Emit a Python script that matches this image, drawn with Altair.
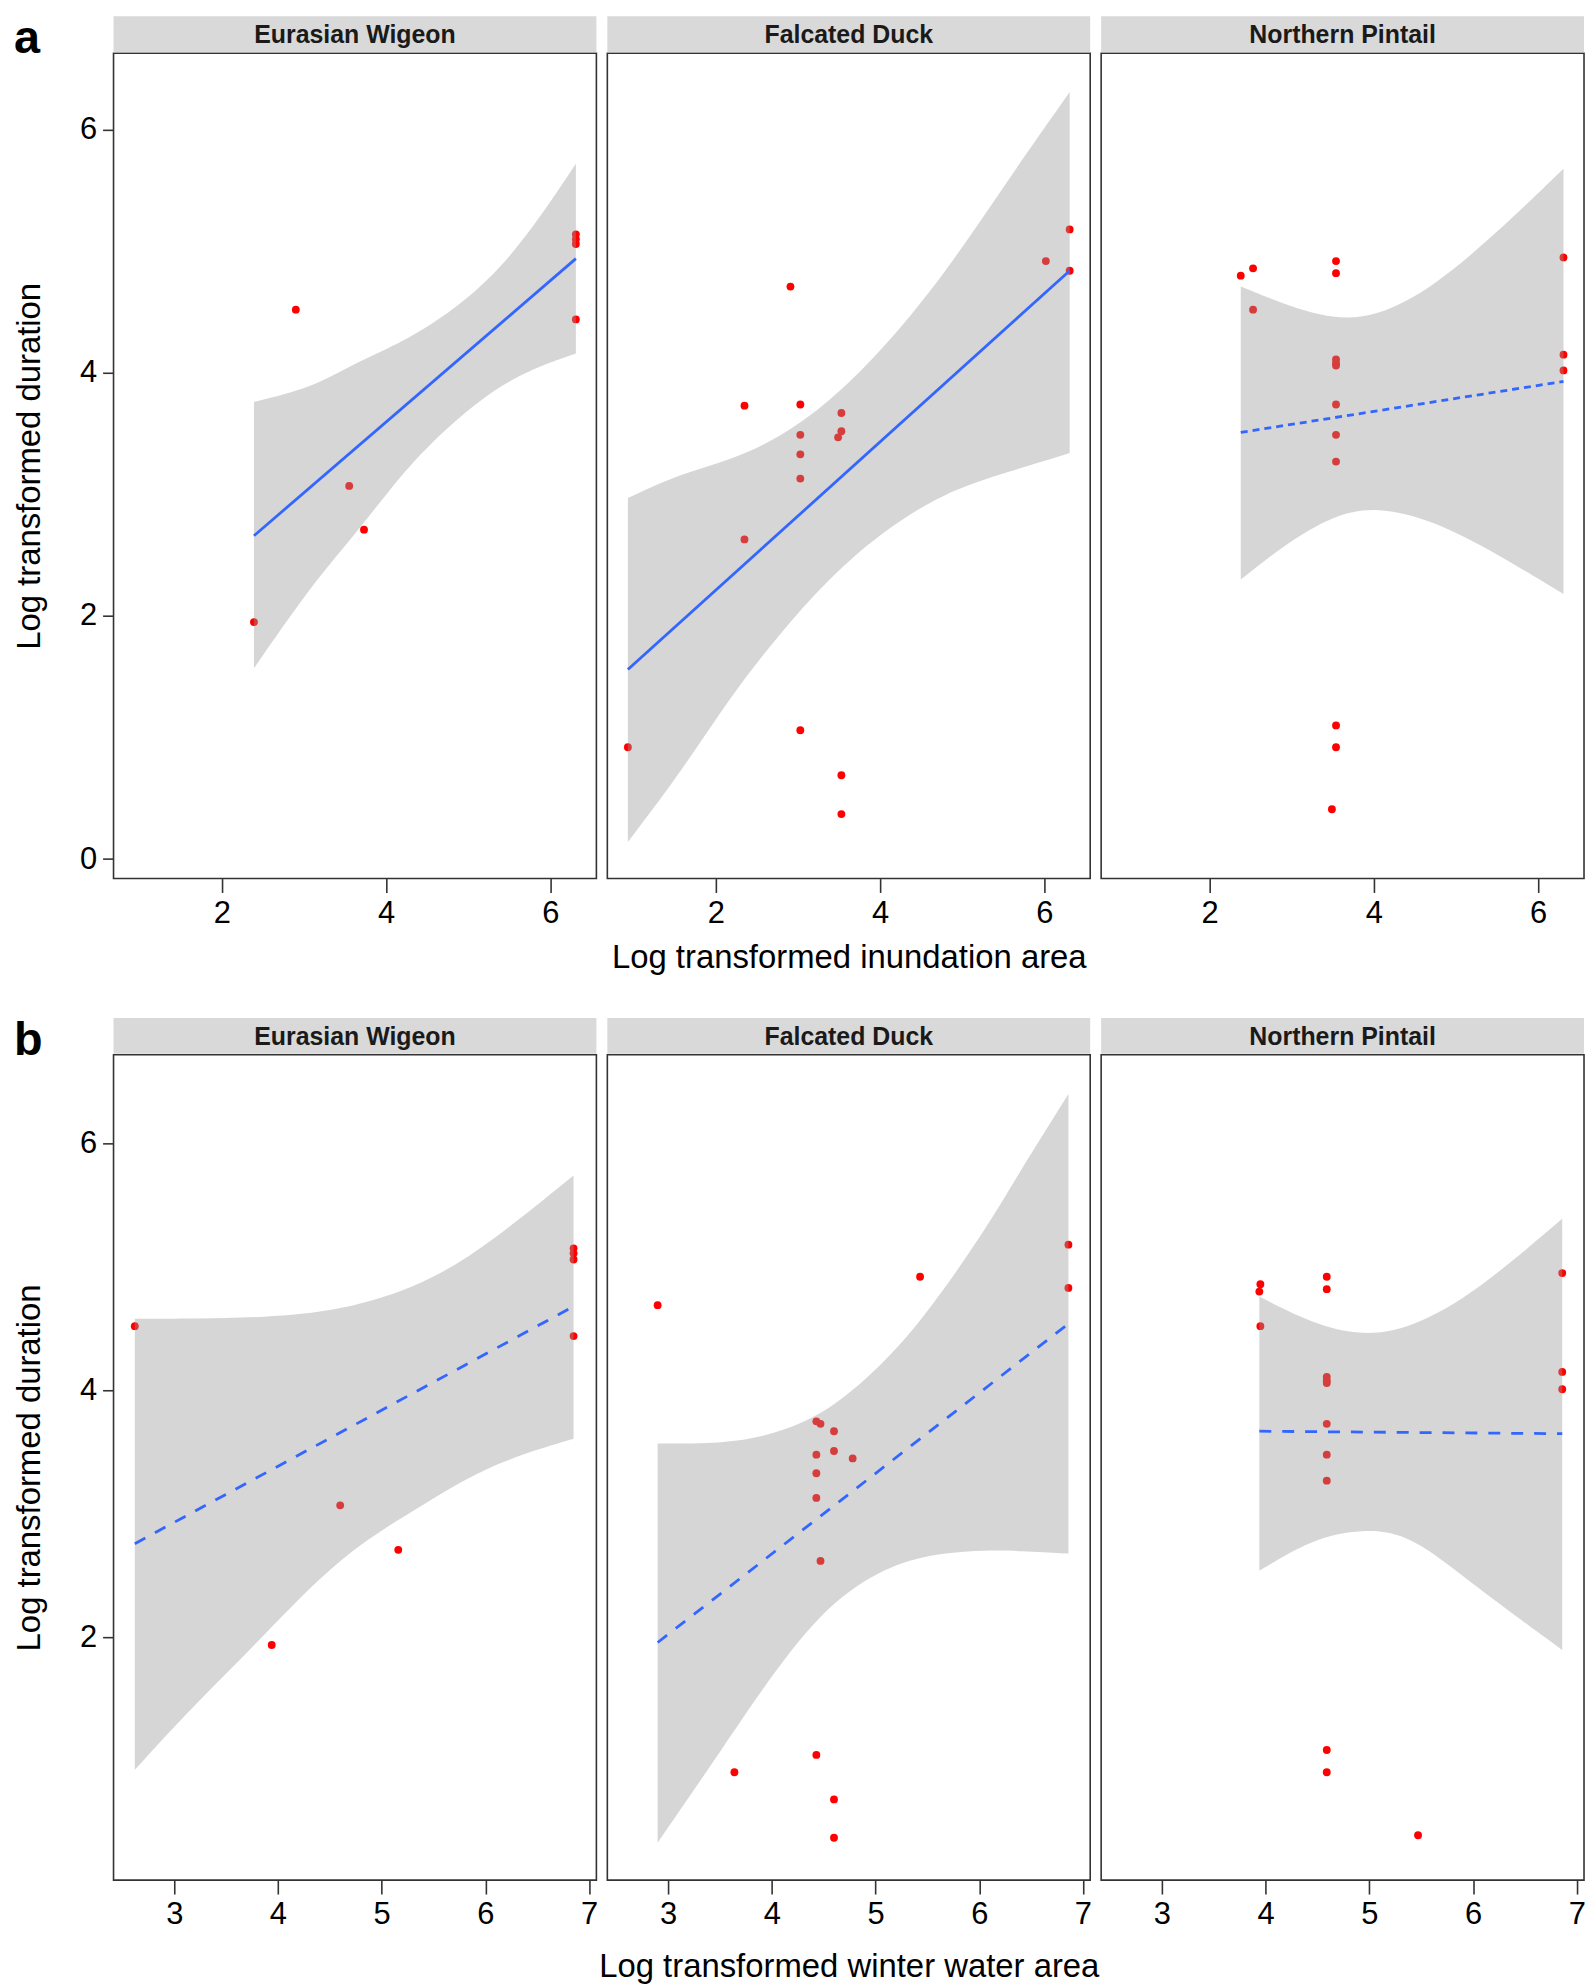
import altair as alt
import pandas as pd

# ---------------- data ----------------
SPECIES = ["Eurasian Wigeon", "Falcated Duck", "Northern Pintail"]

# Row a : inundation area
EW_A_X = [2.39, 2.90, 3.55, 3.73, 6.31, 6.31, 6.31, 6.31]
EW_A_Y = [1.95, 4.52, 3.07, 2.71, 5.14, 5.10, 5.06, 4.44]
EW_A_LINE_X = [2.39, 6.31]
EW_A_LINE_Y = [2.66, 4.94]
EW_A_BAND_X = [2.39, 3.10, 3.56, 4.02, 4.49, 5.42, 6.31]
EW_A_BAND_LO = [1.57, 2.26, 2.62, 3.02, 3.40, 3.95, 4.16]
EW_A_BAND_HI = [3.76, 3.88, 4.06, 4.20, 4.36, 4.82, 5.72]

FD_A_X = [0.93, 2.35, 2.35, 2.91, 3.03, 3.03, 3.03, 3.03, 3.03, 3.53, 3.53, 3.49, 3.53, 3.53, 6.02, 6.31, 6.31]
FD_A_Y = [0.92, 3.73, 2.63, 4.71, 3.74, 3.49, 3.33, 3.13, 1.06, 3.67, 3.52, 3.47, 0.69, 0.37, 4.92, 5.18, 4.84]
FD_A_LINE_X = [0.93, 6.31]
FD_A_LINE_Y = [1.56, 4.84]
FD_A_BAND_X = [0.93, 1.57, 2.17, 2.77, 3.38, 3.98, 4.78, 5.58, 6.31]
FD_A_BAND_LO = [0.14, 0.71, 1.33, 1.85, 2.31, 2.67, 3.02, 3.19, 3.34]
FD_A_BAND_HI = [2.97, 3.17, 3.28, 3.46, 3.76, 4.15, 4.80, 5.61, 6.31]

NP_A_X = [2.38, 2.53, 2.53, 3.54, 3.54, 3.54, 3.54, 3.54, 3.54, 3.54, 3.54, 6.31, 6.31, 6.31, 3.54, 3.54, 3.49]
NP_A_Y = [4.80, 4.86, 4.52, 4.92, 4.82, 4.11, 4.08, 4.06, 3.74, 3.49, 3.27, 4.95, 4.15, 4.02, 1.10, 0.92, 0.41]
NP_A_LINE_X = [2.38, 6.31]
NP_A_LINE_Y = [3.51, 3.93]
NP_A_BAND_X = [2.38, 2.92, 3.51, 4.03, 4.72, 5.53, 6.31]
NP_A_BAND_LO = [2.30, 2.59, 2.83, 2.90, 2.79, 2.50, 2.18]
NP_A_BAND_HI = [4.71, 4.56, 4.44, 4.46, 4.70, 5.17, 5.68]

# Row b : winter water area
EW_B_X = [2.62, 3.94, 4.60, 5.16, 6.85, 6.85, 6.85, 6.85]
EW_B_Y = [4.52, 1.94, 3.07, 2.71, 5.15, 5.11, 5.06, 4.44]
EW_B_LINE_X = [2.62, 6.85]
EW_B_LINE_Y = [2.76, 4.68]
EW_B_BAND_X = [2.62, 3.21, 3.85, 4.60, 5.43, 6.06, 6.85]
EW_B_BAND_LO = [0.93, 1.47, 2.00, 2.67, 3.09, 3.41, 3.61]
EW_B_BAND_HI = [4.58, 4.58, 4.59, 4.64, 4.86, 5.20, 5.74]

FD_B_X = [2.90, 5.43, 6.86, 6.86, 4.43, 4.47, 4.60, 4.60, 4.78, 4.43, 4.43, 4.43, 4.47, 4.43, 3.64, 4.60, 4.60]
FD_B_Y = [4.69, 4.92, 5.18, 4.83, 3.75, 3.73, 3.67, 3.51, 3.45, 3.48, 3.33, 3.13, 2.62, 1.05, 0.91, 0.69, 0.38]
FD_B_LINE_X = [2.90, 6.86]
FD_B_LINE_Y = [1.96, 4.54]
FD_B_BAND_X = [2.90, 3.54, 4.01, 4.49, 4.96, 5.44, 6.07, 6.39, 6.86]
FD_B_BAND_LO = [0.34, 1.12, 1.71, 2.22, 2.51, 2.67, 2.71, 2.70, 2.68]
FD_B_BAND_HI = [3.57, 3.57, 3.64, 3.80, 4.12, 4.55, 5.31, 5.77, 6.40]

NP_B_X = [3.95, 3.94, 3.95, 4.59, 4.59, 4.59, 4.59, 4.59, 4.59, 4.59, 4.59, 6.86, 6.86, 6.86, 4.59, 4.59, 5.47]
NP_B_Y = [4.86, 4.80, 4.52, 4.92, 4.82, 4.11, 4.08, 4.06, 3.73, 3.48, 3.27, 4.95, 4.15, 4.01, 1.09, 0.91, 0.40]
NP_B_LINE_X = [3.94, 6.86]
NP_B_LINE_Y = [3.67, 3.65]
NP_B_BAND_X = [3.94, 4.45, 4.93, 5.40, 6.04, 6.86]
NP_B_BAND_LO = [2.54, 2.80, 2.88, 2.84, 2.40, 1.90]
NP_B_BAND_HI = [4.76, 4.54, 4.44, 4.50, 4.80, 5.39]

A_XDOM = [0.68, 6.56]
A_YDOM = [-0.16, 6.63]
A_XTICKS = [2, 4, 6]
A_YTICKS = [0, 2, 4, 6]
B_XDOM = [2.415, 7.07]
B_YDOM = [0.037, 6.717]
B_XTICKS = [3, 4, 5, 6, 7]
B_YTICKS = [2, 4, 6]

Y_TITLE = "Log transformed duration"
A_XTITLE = "Log transformed inundation area"
B_XTITLE = "Log transformed winter water area"

# ---------------- layout constants ----------------
W, H = 485, 829
FONT = "Liberation Sans"
ONE = pd.DataFrame({"k": [0]})


def panel(px, py, lx, ly, bx, blo, bhi, dash, xdom, xticks, ydom, yticks,
          name, show_y, xtitle, tag, xtitle_pad):
    pts = pd.DataFrame({"x": px, "y": py})
    ln = pd.DataFrame({"x": lx, "y": ly})
    bd = pd.DataFrame({"x": bx, "lo": blo, "hi": bhi})

    xs = alt.Scale(domain=xdom, nice=False, zero=False)
    ys = alt.Scale(domain=ydom, nice=False, zero=False)
    xaxis = alt.Axis(values=xticks, title=xtitle, format="d", titlePadding=xtitle_pad)
    if show_y:
        yaxis = alt.Axis(values=yticks, title=Y_TITLE, format="d")
    else:
        yaxis = None

    X = alt.X("x:Q", scale=xs, axis=xaxis)
    Y = alt.Y("y:Q", scale=ys, axis=yaxis)

    points = alt.Chart(pts).mark_circle(size=62, color="#FF0000", opacity=1).encode(x=X, y=Y)
    band = alt.Chart(bd).mark_area(color="#999999", opacity=0.4, interpolate="basis").encode(
        x=X, y=alt.Y("lo:Q", scale=ys, axis=yaxis), y2="hi:Q")
    if dash:
        line = alt.Chart(ln).mark_line(color="#3366FF", strokeWidth=2.8, strokeDash=dash).encode(x=X, y=Y)
    else:
        line = alt.Chart(ln).mark_line(color="#3366FF", strokeWidth=2.8).encode(x=X, y=Y)

    strip = alt.Chart(ONE).mark_rect(color="#D9D9D9").encode(
        x=alt.value(0), x2=alt.value(W), y=alt.value(-37), y2=alt.value(-1))
    stext = alt.Chart(ONE).mark_text(
        text=name, font=FONT, fontSize=25, fontWeight="bold", color="#1A1A1A",
        align="center", baseline="alphabetic").encode(x=alt.value(W / 2), y=alt.value(-10))

    layers = [points, band, line, strip, stext]
    if tag:
        layers.append(alt.Chart(ONE).mark_text(
            text=tag, font=FONT, fontSize=47, fontWeight="bold", color="black",
            align="left", baseline="alphabetic").encode(x=alt.value(-100), y=alt.value(0)))
    return alt.layer(*layers).properties(width=W, height=H)


row_a = [
    panel(EW_A_X, EW_A_Y, EW_A_LINE_X, EW_A_LINE_Y, EW_A_BAND_X, EW_A_BAND_LO, EW_A_BAND_HI,
          None, A_XDOM, A_XTICKS, A_YDOM, A_YTICKS, SPECIES[0], True, None, "a", 13),
    panel(FD_A_X, FD_A_Y, FD_A_LINE_X, FD_A_LINE_Y, FD_A_BAND_X, FD_A_BAND_LO, FD_A_BAND_HI,
          None, A_XDOM, A_XTICKS, A_YDOM, A_YTICKS, SPECIES[1], False, A_XTITLE, None, 13),
    panel(NP_A_X, NP_A_Y, NP_A_LINE_X, NP_A_LINE_Y, NP_A_BAND_X, NP_A_BAND_LO, NP_A_BAND_HI,
          [7, 5], A_XDOM, A_XTICKS, A_YDOM, A_YTICKS, SPECIES[2], False, None, None, 13),
]
row_b = [
    panel(EW_B_X, EW_B_Y, EW_B_LINE_X, EW_B_LINE_Y, EW_B_BAND_X, EW_B_BAND_LO, EW_B_BAND_HI,
          [12, 11], B_XDOM, B_XTICKS, B_YDOM, B_YTICKS, SPECIES[0], True, None, "b", 21),
    panel(FD_B_X, FD_B_Y, FD_B_LINE_X, FD_B_LINE_Y, FD_B_BAND_X, FD_B_BAND_LO, FD_B_BAND_HI,
          [12, 11], B_XDOM, B_XTICKS, B_YDOM, B_YTICKS, SPECIES[1], False, B_XTITLE, None, 21),
    panel(NP_B_X, NP_B_Y, NP_B_LINE_X, NP_B_LINE_Y, NP_B_BAND_X, NP_B_BAND_LO, NP_B_BAND_HI,
          [12, 11], B_XDOM, B_XTICKS, B_YDOM, B_YTICKS, SPECIES[2], False, None, None, 21),
]

chart = alt.concat(
    *(row_a + row_b), columns=3, spacing={"row": 177, "column": 11}, bounds="flush"
).properties(
    padding={"left": 4, "top": 2, "right": 0, "bottom": 0}
).configure(font=FONT).configure_view(
    stroke="#333333", strokeWidth=1.6
).configure_axis(
    grid=False, domain=False, tickColor="#333333", tickWidth=1.6,
    labelColor="black", titleColor="black", labelFont=FONT, titleFont=FONT,
    labelFontSize=31, titleFontSize=33, titleFontWeight="normal", labelFlush=False,
).configure_axisX(
    tickSize=14, labelPadding=6
).configure_axisY(
    tickSize=11, labelPadding=6, titlePadding=33
)

chart.save("out.html", embed_options={"renderer": "svg", "actions": False})
